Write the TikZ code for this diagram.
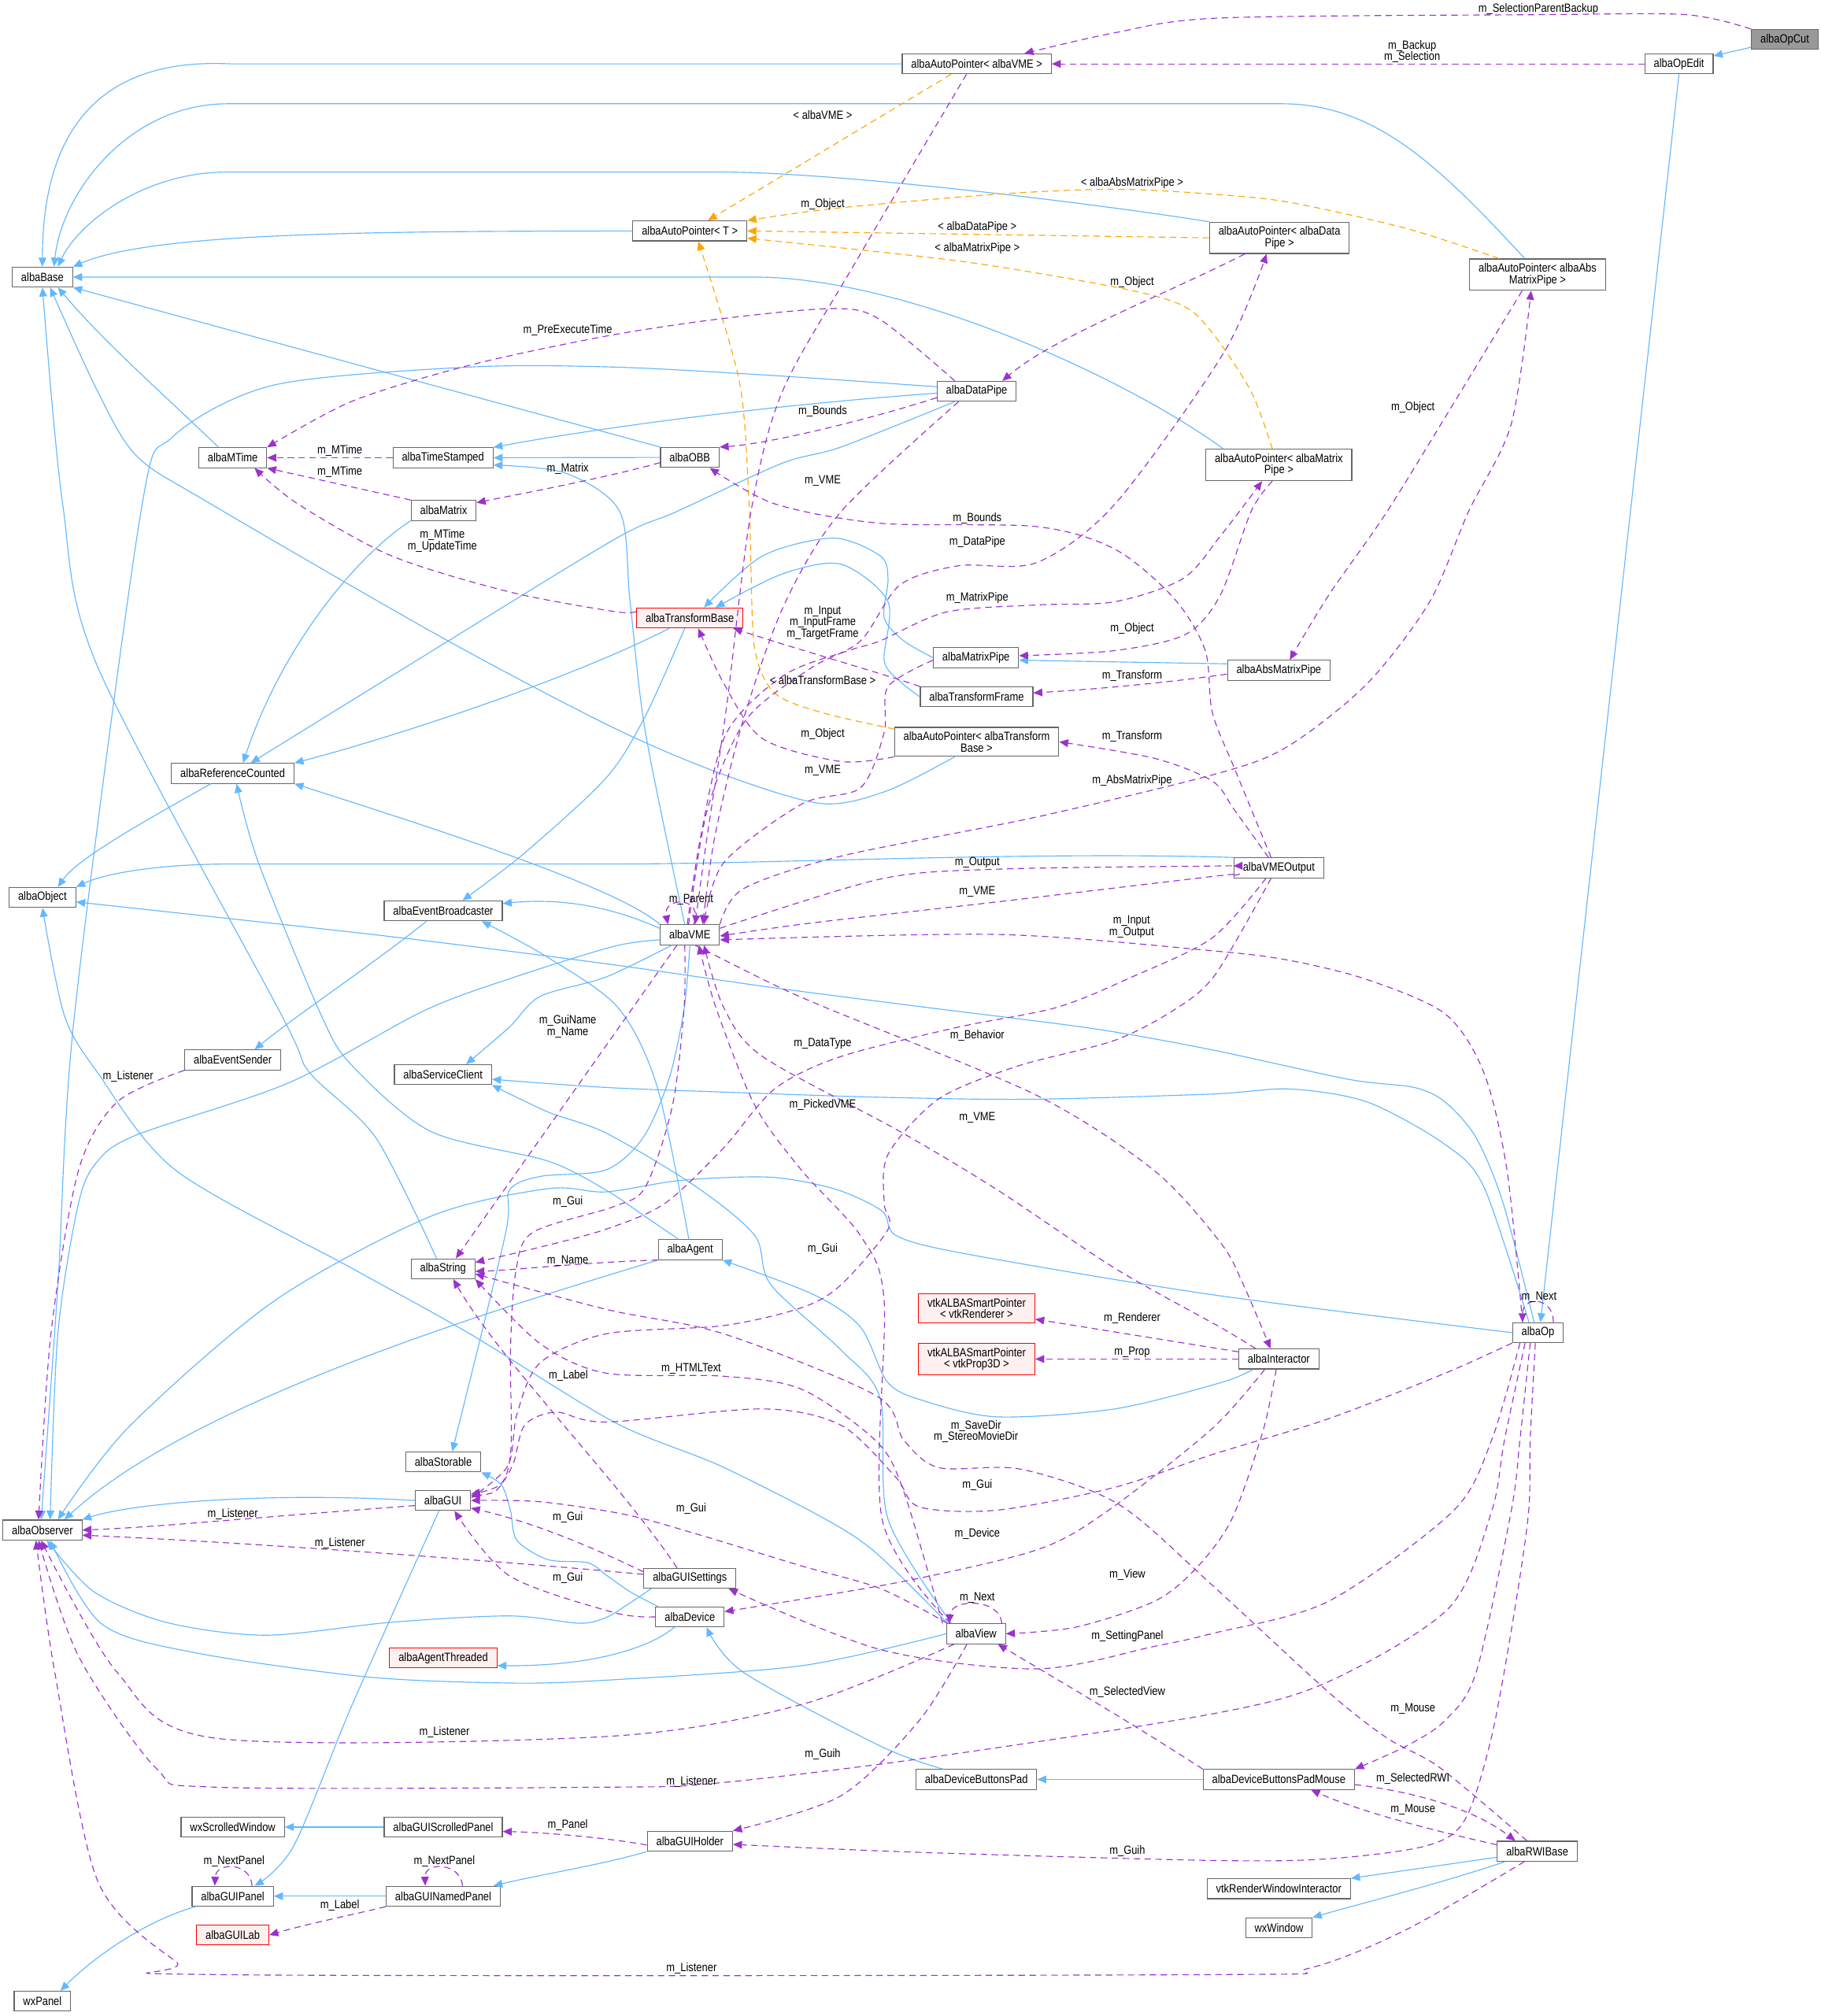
\documentclass[tikz,border=0pt]{standalone}
\usepackage{fontspec}
\setmainfont{Liberation Sans}[FakeStretch=0.85]
\usepackage{xcolor}
\usetikzlibrary{arrows.meta, positioning}

\definecolor{inhblue}{HTML}{63B8FF}
\definecolor{deppurple}{HTML}{9A32CD}
\definecolor{tmplorange}{HTML}{FFA500}
\definecolor{boxgray}{HTML}{666666}
\definecolor{redfill}{HTML}{FFF0F0}
\definecolor{cutgray}{HTML}{999999}

\newcommand{\dxfont}{\fontsize{9.3}{8.9}\selectfont}

\tikzset{
  cls/.style={draw=boxgray, fill=white, line width=0.7pt, inner xsep=7pt, inner ysep=3.4pt, minimum height=15.5pt, align=center, font=\dxfont},
  redcls/.style={cls, draw=red, fill=redfill},
  curcls/.style={cls, fill=cutgray},
  lbl/.style={font=\dxfont, inner sep=0pt, align=center},
  inh/.style={draw=inhblue, line width=0.7pt, -{Triangle[length=7pt,width=6pt]}},
  dep/.style={draw=deppurple, line width=0.7pt, dash pattern=on 5pt off 3.5pt, -{Triangle[length=7pt,width=6pt]}},
  tmpl/.style={draw=tmplorange, line width=0.7pt, dash pattern=on 5pt off 3.5pt, -{Triangle[length=7pt,width=6pt]}},
}

\begin{document}
\begin{tikzpicture}[x=1pt,y=-1pt]
\fill[white] (0,0) rectangle (1416,1568);
\useasboundingbox (0,0) rectangle (1416,1568);

% classes
\node[curcls] (opcut) at (1388,30.7) {albaOpCut};
\node[cls] (opedit) at (1305.7,49.7) {albaOpEdit};
\node[cls] (apvme) at (759.6,49.7) {albaAutoPointer< albaVME >};
\node[cls] (apt) at (536.5,179.6) {albaAutoPointer< T >};
\node[cls] (apdata) at (995,185) {albaAutoPointer< albaData\\Pipe >};
\node[cls] (apabs) at (1195.7,213.6) {albaAutoPointer< albaAbs\\MatrixPipe >};
\node[cls] (base) at (33,215.5) {albaBase};
\node[cls] (datapipe) at (759.5,304.3) {albaDataPipe};
\node[cls] (mtime) at (181,356) {albaMTime};
\node[cls] (tstamp) at (344.5,356) {albaTimeStamped};
\node[cls] (obb) at (536.5,355.8) {albaOBB};
\node[cls] (apmat) at (994.5,361.7) {albaAutoPointer< albaMatrix\\Pipe >};
\node[cls] (matrix) at (345,397) {albaMatrix};
\node[redcls] (tbase) at (536.5,480.6) {albaTransformBase};
\node[cls] (matpipe) at (759,511.5) {albaMatrixPipe};
\node[cls] (absmat) at (994.5,521.3) {albaAbsMatrixPipe};
\node[cls] (tframe) at (759.5,542) {albaTransformFrame};
\node[cls] (aptb) at (759.5,577) {albaAutoPointer< albaTransform\\Base >};
\node[cls] (refc) at (181,601.5) {albaReferenceCounted};
\node[cls] (object) at (33,698) {albaObject};
\node[cls] (vmeout) at (994.5,675) {albaVMEOutput};
\node[cls] (broad) at (344.7,708.4) {albaEventBroadcaster};
\node[cls] (vme) at (536.5,727) {albaVME};
\node[cls] (sender) at (181,824.4) {albaEventSender};
\node[cls] (svc) at (344.5,835.8) {albaServiceClient};
\node[cls] (agent) at (536.7,972) {albaAgent};
\node[cls] (str) at (344.5,986.8) {albaString};
\node[redcls] (vtkren) at (759.5,1017.6) {vtkALBASmartPointer\\< vtkRenderer >};
\node[redcls] (vtkprop) at (759.5,1057) {vtkALBASmartPointer\\< vtkProp3D >};
\node[cls] (op) at (1196,1036.5) {albaOp};
\node[cls] (inter) at (994.5,1057) {albaInteractor};
\node[cls] (stor) at (344.7,1137) {albaStorable};
\node[cls] (gui) at (344.4,1167) {albaGUI};
\node[cls] (observer) at (33,1190) {albaObserver};
\node[cls] (guiset) at (536.5,1227.5) {albaGUISettings};
\node[cls] (device) at (536.5,1257.5) {albaDevice};
\node[cls] (view) at (759,1270.7) {albaView};
\node[redcls] (agthr) at (344.7,1289.5) {albaAgentThreaded};
\node[cls] (pad) at (759.3,1384) {albaDeviceButtonsPad};
\node[cls] (padmouse) at (994.5,1384) {albaDeviceButtonsPadMouse};
\node[cls] (scrwin) at (181,1421) {wxScrolledWindow};
\node[cls] (scrpanel) at (344.7,1421) {albaGUIScrolledPanel};
\node[cls] (holder) at (536.5,1432) {albaGUIHolder};
\node[cls] (rwi) at (1195.5,1439.8) {albaRWIBase};
\node[cls] (rwinter) at (994.5,1469) {vtkRenderWindowInteractor};
\node[cls] (guipanel) at (181,1474.8) {albaGUIPanel};
\node[cls] (named) at (344.7,1474.8) {albaGUINamedPanel};
\node[cls] (wxwin) at (994.6,1499.4) {wxWindow};
\node[redcls] (lab) at (181,1505) {albaGUILab};
\node[cls] (wxpanel) at (33,1556.5) {wxPanel};

% inheritance
\draw[inh] (opcut) -- (opedit);
\draw[inh] (opedit.south) -- ([xshift=2pt]op.north);
\draw[inh] (apvme.west) -- (180,49.7) .. controls (70,44) and (33,110) .. (base.north);
\draw[inh] ([xshift=-10pt]apabs.north) .. controls (1120,130) and (1070,80.7) .. (997,80.7) -- (177,80.7) .. controls (100,80.7) and (48,150) .. ([xshift=9pt]base.north);
\draw[inh] (apdata.north west) .. controls (850,158) and (650,133.8) .. (560,133.8) -- (177,133.8) .. controls (110,133.8) and (60,175) .. ([xshift=12pt]base.north);
\draw[inh] (apt.west) .. controls (300,180) and (120,180) .. (base.north east);
\draw[inh] ([xshift=-43pt]apmat.north) .. controls (870,290) and (700,215.5) .. (587,215.5) -- (base.east);
\draw[inh] (obb.north west) -- (base.south east);
\draw[inh] ([xshift=-11pt]mtime.north) .. controls (120,300) and (80,265) .. ([xshift=12pt]base.south);
\draw[inh] plot[smooth] coordinates {([xshift=-17pt]aptb.south) (690,615) (639,625) (562.8,602.5) (477,566) (344,496) (164,392) (106.6,355) (76,304.6) ([xshift=6pt]base.south)};
\draw[inh] plot[smooth] coordinates {([xshift=-5pt]str.north) (292.3,885) (240.6,834) (219,789.6) (76,518.7) (48.7,391.8) (base.south)};
\draw[inh] ([yshift=-1.5pt]datapipe.west) .. controls (600,315) and (470,332) .. (tstamp.north east);
\draw[inh] (obb.west) -- (tstamp.east);
\draw[inh] plot[smooth] coordinates {([xshift=-4pt]vme.north) (502,570) (490,468) (482,398) (440,368) ([yshift=-5.7pt]tstamp.east)};
\draw[inh] (matrix.south west) .. controls (280,430) and (220,500) .. ([xshift=8pt]refc.north);
\draw[inh] plot[smooth] coordinates {([xshift=-17pt]datapipe.south) (654,347.7) (608,360.4) (526,398) (477.5,419.7) (330,510) ([xshift=14pt]refc.north)};
\draw[inh] ([xshift=-16pt]tbase.south) .. controls (440,530) and (300,575) .. (refc.north east);
\draw[inh] (vme.north west) .. controls (480,690) and (340,645) .. (refc.south east);
\draw[inh] plot[smooth] coordinates {([xshift=-9pt]agent.north) (500,945) (471.4,925.7) (426,903) (335,880) (274,829) (250,790) (201,671) ([xshift=3pt]refc.south)};
\draw[inh] ([xshift=-17pt]refc.south) .. controls (110,640) and (60,668) .. ([xshift=12pt]object.north);
\draw[inh] (vmeout.north west) .. controls (800,662) and (600,672) .. (477,672) -- (180,672) .. controls (120,672) and (80,680) .. (object.north east);
\draw[inh] plot[smooth] coordinates {([xshift=-3pt]op.north) (1169,935.9) (1148,885) (1123.9,857.2) (1099.8,845.8) (1048.4,839.4) (942.8,816.6) (850,800) (721,783.6) (600,768) (471.4,749.6) (300,728) ([yshift=-3.5pt]object.east)};
\draw[inh] plot[smooth] coordinates {([xshift=-7pt]op.north) (1154,923.2) (1123.9,890.2) (1063.5,857.2) (1003.2,847) (942.8,850.9) (800,855) (684.6,853.4) (580,850) (471.4,845.8) ([yshift=-3.6pt]svc.east)};
\draw[inh] plot[smooth] coordinates {(op.west) (942.8,1007) (750,975) (697,961) (686,942) (650,925) (599,915.6) (530,918) (471,927) (426,924.5) (335,946) (213,1012) (100,1110) ([xshift=12pt]observer.north)};
\draw[inh] plot[smooth] coordinates {([yshift=-4pt]vme.west) (477.5,736) (400,760) (330,786) (225,842) (106.6,882.6) (76,903) (61,936) (45,1037) ([xshift=6pt]observer.north)};
\draw[inh] plot[smooth] coordinates {([yshift=3.5pt]datapipe.west) (600,292) (477.5,285.5) (365,285.5) (213,299.5) (134,340) (109.6,398) (57.9,789.6) (45,1000) ([xshift=-1pt]observer.north)};
\draw[inh] (agent.south west) .. controls (380,1020) and (150,1090) .. ([xshift=17pt]observer.north);
\draw[inh] (gui.west) .. controls (200,1160) and (100,1170) .. (observer.north east);
\draw[inh] plot[smooth] coordinates {([xshift=-30pt]guiset.south) (485,1250) (471.4,1258) (450.7,1262.5) (396,1256.8) (304.6,1261.7) (207,1271.8) (130,1262) (73,1238) ([xshift=3.5pt]observer.south)};
\draw[inh] plot[smooth] coordinates {(view.west) (623.6,1295.5) (471.4,1306.8) (396,1309) (286,1304.3) (152,1285.5) (79,1263) ([xshift=6pt]observer.south)};
\draw[inh] plot[smooth] coordinates {([xshift=-22pt]view.north) (681.5,1208) (642,1181.6) (560,1140) (477.5,1106) (365.4,1037.4) (274,986.6) (137,910.5) (76,834.4) (50,789.6) (object.south)};
\draw[inh] plot[smooth] coordinates {([xshift=-19pt]view.north) (690.6,1181.6) (684.6,1088) (654,1050) (599.3,999) (587,961) (541.4,923) (471.4,881.3) (426,864.8) (svc.south east)};
\draw[inh] plot[smooth] coordinates {([xshift=-14pt]vme.south) (471,760) (420,775) (396,799) ([xshift=18pt]svc.north)};
\draw[inh] plot[smooth] coordinates {(vme.south) (532,785) (520,840) (500,885) (471,910) (420,915) (396,926) (392.8,961) ([xshift=7pt]stor.north)};
\draw[inh] ([yshift=5pt]vme.west) .. controls (490,712) and (450,697) .. ([yshift=5.7pt]broad.east);
\draw[inh] plot[smooth] coordinates {([xshift=-4pt]tbase.south) (501.9,556.8) (471.4,605) (408,663.4) ([xshift=15pt]broad.north)};
\draw[inh] plot[smooth] coordinates {([xshift=-1pt]agent.north) (511,845) (480.5,783.6) (426,744.6) ([xshift=30pt]broad.south)};
\draw[inh] ([xshift=-13pt]broad.south) .. controls (290,750) and (230,790) .. ([xshift=17pt]sender.north);
\draw[inh] plot[smooth] coordinates {([xshift=-20pt]inter.south) (949,1075.5) (867,1095.8) (775.9,1102) (720,1090) (690.6,1075.5) (669.3,1032.3) (633,1007) (agent.south east)};
\draw[inh] plot[smooth] coordinates {([xshift=-26pt]pad.north) (684.6,1358) (578,1300.6) ([xshift=13pt]device.south)};
\draw[inh] ([xshift=-12pt]device.south) .. controls (505,1282) and (460,1296) .. ([yshift=-6pt]agthr.east);
\draw[inh] plot[smooth] coordinates {([xshift=-25pt]device.north) (490,1238) (471.4,1225) (457,1215.4) (426,1213) (402,1198) (397,1175) (390,1155) (stor.south east)};
\draw[inh] plot[smooth] coordinates {([xshift=-3pt]gui.south) (274,1325.6) (228.4,1435.7) ([xshift=17pt]guipanel.north)};
\draw[inh] (scrpanel.west) -- (scrwin.east);
\draw[inh] (named.west) -- (guipanel.east);
\draw[inh] (holder.south west) .. controls (470,1450) and (420,1458) .. ([xshift=39pt]named.north);
\draw[inh] ([xshift=-29pt]guipanel.south) .. controls (110,1495) and (70,1525) .. ([xshift=14pt]wxpanel.north);
\draw[inh] (padmouse.west) -- (pad.east);
\draw[inh] ([yshift=-4.7pt]rwi.west) -- (rwinter.north east);
\draw[inh] ([xshift=-25pt]rwi.south) .. controls (1120,1465) and (1060,1480) .. (wxwin.north east);
\draw[inh] plot[smooth] coordinates {(matpipe.west) (702.8,498.4) (687.6,480.6) (690.6,450) (684.6,432.4) (648,418.5) (593,432.4) ([xshift=11pt]tbase.north)};
\draw[inh] plot[smooth] coordinates {(tframe.west) (700,530) (687.6,513.6) (690.6,468) (654,438.8) (608.4,446.4) ([xshift=20pt]tbase.north)};
\draw[inh] ([yshift=5pt]absmat.west) -- ([yshift=-2pt]matpipe.east);

% template instances
\draw[tmpl] ([xshift=-20pt]apvme.south) -- ([xshift=14pt]apt.north);
\draw[tmpl] plot[smooth] coordinates {([xshift=-30pt]apabs.north) (1093.7,177.7) (1003,157.4) (942.8,151) (867.3,147.2) (776,151) (650,162) (apt.north east)};
\draw[tmpl] (apdata.west) -- (apt.east);
\draw[tmpl] plot[smooth] coordinates {([xshift=-5pt]apmat.north) (973,304.6) (942.8,258.9) (919,237.3) (867.3,223.3) (745.5,203) ([yshift=-5.7pt]apt.east)};
\draw[tmpl] plot[smooth] coordinates {([yshift=10pt]aptb.west) (639,554.2) (602.3,539) (587.1,506) (584,442.6) (582.5,391) (574.9,296.4) ([xshift=6.5pt]apt.south)};

% usage
\draw[dep] plot[smooth] coordinates {(opcut.north west) (1311,11.4) (1200,11.4) (949,14) (867.3,25.4) ([xshift=37pt]apvme.north)};
\draw[dep] (opedit.west) -- (apvme.east);
\draw[dep] plot[smooth] coordinates {([xshift=-8pt]apvme.south) (666,202.8) (608.4,304.6) (584,398) (565,550) (550,650) ([xshift=4pt]vme.north)};
\draw[dep] ([xshift=-27pt]apdata.south) .. controls (900,232) and (820,262) .. ([xshift=20pt]datapipe.north);
\draw[dep] plot[smooth] coordinates {([xshift=-12pt]apabs.south) (1136,304.6) (1078.6,398) (1033.3,462.9) ([xshift=8.5pt]absmat.north)};
\draw[dep] plot[smooth] coordinates {(vme.north east) (578,691.3) (654,665.9) (806.4,635.4) (949,601) (1003,579.6) (1063.5,531.4) (1111.8,468) (1142,398) (1175.2,330) ([xshift=-5pt]apabs.south)};
\draw[dep] plot[smooth] coordinates {([xshift=-5pt]apmat.south) (973,397.6) (949,462.9) (922,493.4) (867,506) ([yshift=1.5pt]matpipe.east)};
\draw[dep] plot[smooth] coordinates {([xshift=-2pt]vme.north) (545,650) (565,570) (610,525) (660,506) (684.6,498.4) (736,476) (806.4,470.5) (867,468) (920,450) (949,417) ([xshift=-13pt]apmat.south)};
\draw[dep] plot[smooth] coordinates {([xshift=-1pt]vme.north) (550,630) (580,560) (630,520) (669.3,498.4) (699.8,455) (745.5,440) (806.4,437.5) (867.3,391.8) (951.9,274) ([xshift=-10pt]apdata.south)};
\draw[dep] plot[smooth] coordinates {([xshift=-17pt]datapipe.north) (684.6,248.7) (648,240) (560,248) (471.4,261.4) (365.4,284) (274,312) (mtime.north east)};
\draw[dep] ([yshift=-5pt]datapipe.west) .. controls (680,325) and (600,345) .. (obb.north east);
\draw[dep] plot[smooth] coordinates {([xshift=-14pt]datapipe.south) (654,398) (610,470) (578,560) (556,650) ([xshift=10pt]vme.north)};
\draw[dep] plot[smooth] coordinates {([xshift=-6pt]vmeout.north) (961,600) (942.8,554.2) (937.3,506) (913,465.4) (867.3,427.3) (806.4,409.6) (684.6,407) (602.3,391.8) ([xshift=15.5pt]obb.south)};
\draw[dep] (matrix.north west) -- (mtime.south east);
\draw[dep] (tstamp.west) -- (mtime.east);
\draw[dep] ([yshift=-4pt]obb.west) .. controls (470,372) and (400,385) .. ([yshift=6pt]matrix.east);
\draw[dep] plot[smooth] coordinates {([yshift=5pt]tbase.west) (477.5,475.6) (395.9,460.3) (304.6,432.4) (231.4,391.8) ([xshift=17pt]mtime.south)};
\draw[dep] (tframe.north west) .. controls (680,522) and (620,505) .. ([xshift=-8pt]tbase.south east);
\draw[dep] plot[smooth] coordinates {(aptb.south west) (654,592.3) (593,574.5) (562.8,531.4) ([xshift=6.5pt]tbase.south)};
\draw[dep] plot[smooth] coordinates {([yshift=-2pt]matpipe.west) (690.6,534) (687.6,569.5) (669.3,612.6) (623.6,625.3) (562.8,671) ([xshift=11pt]vme.north)};
\draw[dep] ([yshift=-3pt]absmat.west) .. controls (900,532) and (850,536) .. ([yshift=3pt]tframe.east);
\draw[dep] plot[smooth] coordinates {([xshift=-8pt]vmeout.north) (960,630) (942.8,607.5) (897.7,589.8) (aptb.east)};
\draw[dep] plot[smooth] coordinates {([yshift=5pt]vme.east) (684.6,683.7) (776,676) (949,673.5) ([yshift=1.5pt]vmeout.west)};
\draw[dep] plot[smooth] coordinates {([yshift=-6pt]vmeout.west) (949,681) (776,701.4) (630,718) ([yshift=-1pt]vme.east)};
\draw[dep] plot[smooth] coordinates {([xshift=-12pt]op.north) (1172,910.5) (1154,834.4) (1124,788.7) (1063.5,762) (1003,747) (942.8,739.5) (776,726.8) ([yshift=-4pt]vme.east)};
\draw[dep] ([xshift=3pt]vme.north) .. controls (548,697) and (515,697) .. ([xshift=-17pt]vme.north);
\draw[dep] ([xshift=-10pt]vme.south) -- ([xshift=10pt]str.north);
\draw[dep] plot[smooth] coordinates {([xshift=-4pt]vme.south) (532,783.6) (523,859.7) (502,923) (477.5,938.4) (414,958.7) (401,990) (397,1050) (397.4,1126) (389.8,1154) ([yshift=5pt]gui.east)};
\draw[dep] plot[smooth] coordinates {([xshift=-10pt]vmeout.south) (942.8,729.4) (880,760) (821.6,783.6) (745.5,798.8) (654,821.7) (602.3,847) (562.8,892.7) (517,936) (471.4,956) (420,970) ([yshift=5pt]str.east)};
\draw[dep] plot[smooth] coordinates {([xshift=-6pt]vmeout.south) (945.8,757) (916,783.6) (867.3,809) (791,829.3) (730,854.7) (690.6,897.8) (687.6,935.9) (690.6,956.2) (654,999.3) (623.6,1017) (562.8,1031) (471.4,1037.4) (420,1060) (402,1100) (395,1140) ([yshift=2pt]gui.east)};
\draw[dep] plot[smooth] coordinates {([xshift=-18pt]inter.north) (949,1032.3) (867.3,986.6) (776,925.7) (699.8,880) (593,821.7) (562.8,783.6) ([xshift=11pt]vme.south)};
\draw[dep] plot[smooth] coordinates {([xshift=4pt]vme.south) (600,765) (642,783.6) (806.4,852) (897.7,910.5) (949,966.3) (967,999.3) ([xshift=-6.5pt]inter.north)};
\draw[dep] plot[smooth] coordinates {([xshift=-20pt]view.north) (686,1181.6) (687.6,1012) (669.3,961.3) (623.6,910.5) (587,859.7) (556.7,783.6) ([xshift=7pt]vme.south)};
\draw[dep] ([yshift=-8pt]agent.west) .. controls (450,982) and (400,988) .. ([yshift=-2pt]str.east);
\draw[dep] ([xshift=-10pt]guiset.north) .. controls (480,1150) and (390,1060) .. ([xshift=8pt]str.south);
\draw[dep] plot[smooth] coordinates {([xshift=-26pt]view.north) (702.8,1160) (681.5,1121) (623.6,1080.6) (562.8,1070.4) (471.4,1068) (420,1045) (str.south east)};
\draw[dep] plot[smooth] coordinates {([xshift=-8pt]rwi.north) (1120,1375) (1079,1352) (1033,1316) (942.8,1233) (870,1170) (794,1142.7) (730.2,1141.5) (702.8,1120) (681.5,1085.6) (562.8,1037.4) (471.4,1018.4) ([yshift=-4pt]str.east)};
\draw[dep] ([yshift=5.6pt]inter.west) -- ([yshift=-8.4pt]vtkren.east);
\draw[dep] (inter.west) -- (vtkprop.east);
\draw[dep] plot[smooth] coordinates {([xshift=-11pt]inter.south) (942.8,1111) (861,1175.4) (806.4,1205.4) (699.8,1230.5) ([yshift=4pt]device.east)};
\draw[dep] plot[smooth] coordinates {([xshift=-2pt]inter.south) (982,1113.6) (957.9,1181.6) (930,1220) (897.7,1245.5) (836.8,1265.5) (view.east)};
\draw[dep] plot[smooth] coordinates {([xshift=-14pt]op.south) (1160,1120) (1129.9,1175.4) (1033,1245.5) (942.8,1270.5) (897.7,1280.5) (806.4,1298) (684.6,1283) ([xshift=-6pt]guiset.south east)};
\draw[dep] plot[smooth] coordinates {([xshift=-10pt]op.south) (1170,1120) (1160,1175.4) (1126.9,1250.5) (1033,1308) (942.8,1333) (715,1368) (556.7,1386.9) (471.4,1390) (167.5,1390) (121.8,1375.6) (61,1288) ([xshift=-3pt]observer.south)};
\draw[dep] plot[smooth] coordinates {([xshift=-17pt]view.south) (623.6,1325.6) (471.4,1350.6) (167.5,1351.9) (91,1300.6) ([xshift=-1pt]observer.south)};
\draw[dep] plot[smooth] coordinates {([xshift=-10pt]rwi.south) (1093.7,1500.8) (1018,1530.8) (942.8,1535.8) (170.5,1535.8) (137,1525.8) (76,1463) (42.6,1300.6) ([xshift=-5pt]observer.south)};
\draw[dep] plot[smooth] coordinates {(sender.south west) (91,857.2) (61,910.5) (39.6,1037.4) ([xshift=-3pt]observer.north)};
\draw[dep] ([yshift=-4pt]gui.west) .. controls (200,1180) and (120,1188) .. (observer.east);
\draw[dep] ([yshift=3pt]guiset.west) .. controls (400,1215) and (200,1200) .. ([yshift=-4pt]observer.east);
\draw[dep] plot[smooth] coordinates {([xshift=-22pt]view.north) (684.6,1235.5) (623.6,1218) (541.4,1193) (486.6,1178) (420,1168) (gui.east)};
\draw[dep] ([yshift=5pt]guiset.west) .. controls (470,1208) and (420,1185) .. ([yshift=-6pt]gui.east);
\draw[dep] plot[smooth] coordinates {(device.west) (477.5,1254.2) (396,1225.5) ([xshift=9pt]gui.south)};
\draw[dep] plot[smooth] coordinates {(op.south west) (1124,1068) (1033.3,1103.4) (942.8,1131.3) (867.3,1156.7) (776,1174.5) (715,1172) (696.7,1149) (654,1108.5) (593,1095.8) (471.4,1106) (432.4,1098.3) (408,1108.5) (398.9,1139) (385,1160) ([yshift=4pt]gui.east)};
\draw[dep] plot[smooth] coordinates {([xshift=-7pt]view.south) (715,1338) (654,1396.7) (holder.north east)};
\draw[dep] plot[smooth] coordinates {([xshift=-2pt]op.south) (1190,1120) (1188.8,1175.4) (1178.2,1250.5) (1160,1350.6) (1139,1415.7) (1108.8,1435.7) (1033.3,1445.7) (942.8,1447) (715,1440.7) ([yshift=-2.5pt]holder.east)};
\draw[dep] plot[smooth] coordinates {([xshift=-6pt]op.south) (1182,1120) (1175.2,1175.4) (1148,1300.5) (1123.9,1338) (1093.7,1358) (padmouse.north east)};
\draw[dep] (padmouse.north west) .. controls (880,1340) and (820,1305) .. ([xshift=17pt]view.south);
\draw[dep] ([yshift=-4pt]padmouse.east) .. controls (1110,1395) and (1150,1410) .. ([xshift=-17pt]rwi.north);
\draw[dep] ([yshift=5pt]rwi.west) .. controls (1120,1425) and (1060,1410) .. ([xshift=25pt]padmouse.south);
\draw[dep] ([yshift=-3pt]holder.west) .. controls (470,1429) and (420,1425) .. ([yshift=-3.5pt]scrpanel.east);
\draw[dep] (named.south west) .. controls (280,1488) and (240,1496) .. (lab.east);
\draw[dep] ([xshift=15pt]guipanel.north) .. controls (195,1448) and (168,1448) .. ([xshift=-14pt]guipanel.north);
\draw[dep] ([xshift=15pt]named.north) .. controls (358,1448) and (330,1448) .. ([xshift=-14pt]named.north);
\draw[dep] ([xshift=20pt]view.north) .. controls (778,1243) and (740,1243) .. ([xshift=-21pt]view.north);
\draw[dep] ([xshift=12pt]op.north) .. controls (1208,1008) and (1184,1008) .. ([xshift=-12pt]op.north);

% labels
\node[lbl] (l1) at (1196.3,7.1) {m\_SelectionParentBackup};
\node[lbl] (l2) at (1098.2,40) {m\_Backup\\m\_Selection};
\node[lbl] (l3) at (639.8,89.3) {< albaVME >};
\node[lbl] (l4) at (880.4,142.1) {< albaAbsMatrixPipe >};
\node[lbl] (l5) at (639.8,158.9) {m\_Object};
\node[lbl] (l6) at (760,176.4) {< albaDataPipe >};
\node[lbl] (l7) at (760,193.4) {< albaMatrixPipe >};
\node[lbl] (l8) at (880.4,219.5) {m\_Object};
\node[lbl] (l9) at (441.5,257) {m\_PreExecuteTime};
\node[lbl] (l10) at (1098.8,317) {m\_Object};
\node[lbl] (l11) at (639.8,319.8) {m\_Bounds};
\node[lbl] (l12) at (264.3,350.5) {m\_MTime};
\node[lbl] (l13) at (441.5,364.7) {m\_Matrix};
\node[lbl] (l14) at (264.3,367) {m\_MTime};
\node[lbl] (l15) at (639.8,373.9) {m\_VME};
\node[lbl] (l16) at (760,403.2) {m\_Bounds};
\node[lbl] (l17) at (344,420.5) {m\_MTime\\m\_UpdateTime};
\node[lbl] (l18) at (760,421.8) {m\_DataPipe};
\node[lbl] (l19) at (760,465) {m\_MatrixPipe};
\node[lbl] (l20) at (639.8,484.4) {m\_Input\\m\_InputFrame\\m\_TargetFrame};
\node[lbl] (l21) at (880.4,489) {m\_Object};
\node[lbl] (l22) at (880.4,525.5) {m\_Transform};
\node[lbl] (l23) at (639.8,529) {< albaTransformBase >};
\node[lbl] (l24) at (639.8,570.7) {m\_Object};
\node[lbl] (l25) at (880.4,572.8) {m\_Transform};
\node[lbl] (l26) at (639.8,599) {m\_VME};
\node[lbl] (l27) at (880.4,607) {m\_AbsMatrixPipe};
\node[lbl] (l28) at (760,671) {m\_Output};
\node[lbl] (l29) at (760,693.3) {m\_VME};
\node[lbl] (l30) at (537.5,699.5) {m\_Parent};
\node[lbl] (l31) at (880,721) {m\_Input\\m\_Output};
\node[lbl] (l32) at (441.5,798.3) {m\_GuiName\\m\_Name};
\node[lbl] (l33) at (760,805.2) {m\_Behavior};
\node[lbl] (l34) at (639.8,812) {m\_DataType};
\node[lbl] (l35) at (99.6,837.4) {m\_Listener};
\node[lbl] (l36) at (639.8,859.2) {m\_PickedVME};
\node[lbl] (l37) at (760,869) {m\_VME};
\node[lbl] (l38) at (441.5,934.6) {m\_Gui};
\node[lbl] (l39) at (639.8,971.4) {m\_Gui};
\node[lbl] (l40) at (441.5,981) {m\_Name};
\node[lbl] (l41) at (1196.9,1009) {m\_Next};
\node[lbl] (l42) at (880.4,1025.2) {m\_Renderer};
\node[lbl] (l43) at (880.4,1051.6) {m\_Prop};
\node[lbl] (l44) at (537.5,1064.3) {m\_HTMLText};
\node[lbl] (l45) at (442,1070) {m\_Label};
\node[lbl] (l46) at (759,1113.5) {m\_SaveDir\\m\_StereoMovieDir};
\node[lbl] (l47) at (760,1155) {m\_Gui};
\node[lbl] (l48) at (537.5,1173.2) {m\_Gui};
\node[lbl] (l49) at (181,1177.8) {m\_Listener};
\node[lbl] (l50) at (441.5,1180.4) {m\_Gui};
\node[lbl] (l51) at (760,1193) {m\_Device};
\node[lbl] (l52) at (264.3,1200.4) {m\_Listener};
\node[lbl] (l53) at (876.7,1224.7) {m\_View};
\node[lbl] (l54) at (441.5,1227.2) {m\_Gui};
\node[lbl] (l55) at (760,1243) {m\_Next};
\node[lbl] (l56) at (876.7,1272.5) {m\_SettingPanel};
\node[lbl] (l57) at (876.7,1316) {m\_SelectedView};
\node[lbl] (l58) at (1098.8,1328.8) {m\_Mouse};
\node[lbl] (l59) at (345.6,1347) {m\_Listener};
\node[lbl] (l60) at (639.8,1364.4) {m\_Guih};
\node[lbl] (l61) at (1098.8,1383.5) {m\_SelectedRWI};
\node[lbl] (l62) at (537.8,1385.7) {m\_Listener};
\node[lbl] (l63) at (1098.8,1407.2) {m\_Mouse};
\node[lbl] (l64) at (441.5,1419.4) {m\_Panel};
\node[lbl] (l65) at (876.7,1440) {m\_Guih};
\node[lbl] (l66) at (182,1447.5) {m\_NextPanel};
\node[lbl] (l67) at (345.6,1447.5) {m\_NextPanel};
\node[lbl] (l68) at (264.3,1481.8) {m\_Label};
\node[lbl] (l69) at (537.8,1530.8) {m\_Listener};
\end{tikzpicture}
\end{document}
